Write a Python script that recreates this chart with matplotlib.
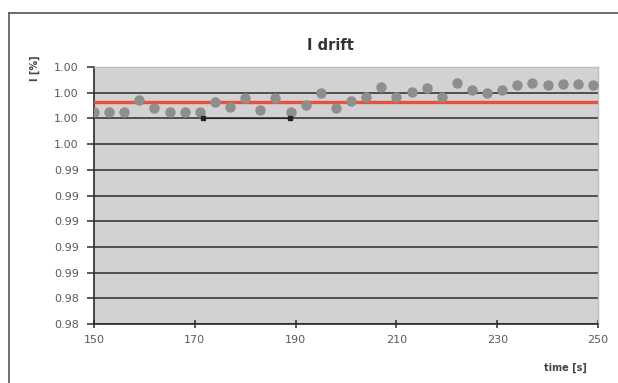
import numpy as np
import matplotlib
matplotlib.use('Agg')
import matplotlib.pyplot as plt
from matplotlib.ticker import FixedLocator, FixedFormatter

# Measured data (time in s, relative current)
time = [150, 153, 156, 159, 162, 165, 168, 171, 174, 177, 180, 183,
        186, 189, 192, 195, 198, 201, 204, 207, 210, 213, 216, 219,
        222, 225, 228, 231, 234, 237, 240, 243, 246, 249]
current = [0.99750, 0.99750, 0.99750, 0.99843, 0.99781, 0.99750, 0.99750,
           0.99750, 0.99828, 0.99789, 0.99859, 0.99765, 0.99859, 0.99750,
           0.99804, 0.99898, 0.99781, 0.99835, 0.99867, 0.99944, 0.99867,
           0.99905, 0.99937, 0.99867, 0.99975, 0.99921, 0.99898, 0.99921,
           0.99960, 0.99975, 0.99960, 0.99968, 0.99968, 0.99960]
mean_level = 0.99828

# stray segment left over in the original sheet
stray_t = [171.6, 188.9]
stray_i = [0.99703, 0.99703]

ytick_vals = [0.981, 0.983, 0.985, 0.987, 0.989, 0.991, 0.993,
              0.995, 0.997, 0.999, 1.001]
ytick_labels = ['0.98', '0.98', '0.99', '0.99', '0.99', '0.99', '0.99',
                '1.00', '1.00', '1.00', '1.00']
xtick_vals = [150, 170, 190, 210, 230, 250]

fig = plt.figure(figsize=(6.18, 3.83), dpi=100)
ax = fig.add_axes([94 / 618, 1 - 324 / 383, 504 / 618, 257 / 383])

ax.set_facecolor('#d2d2d2')
ax.set_xlim(150, 250)
ax.set_ylim(0.981, 1.001)
ax.yaxis.set_major_locator(FixedLocator(ytick_vals))
ax.yaxis.set_major_formatter(FixedFormatter(ytick_labels))
ax.set_xticks(xtick_vals)

ax.grid(axis='y', color='#2b2b2b', linewidth=1.1)
ax.set_axisbelow(True)

for side in ['top', 'right']:
    ax.spines[side].set_color('#bdbdbd')
    ax.spines[side].set_linewidth(1.0)
for side in ['left', 'bottom']:
    ax.spines[side].set_color('#2b2b2b')
    ax.spines[side].set_linewidth(1.2)

ax.tick_params(axis='y', direction='out', length=5, width=1.1, color='#2b2b2b',
               labelsize=8, labelcolor='#5a5a5a', pad=6)
ax.tick_params(axis='x', direction='inout', length=6, width=1.1, color='#2b2b2b',
               labelsize=8, labelcolor='#5a5a5a', pad=5)

ax.axhline(mean_level, color='#e8503c', linewidth=2.4, zorder=3)
ax.plot(time, current, 'o', color='#8e8e8e', markersize=7.5, zorder=4,
        markeredgewidth=0)
ax.plot(stray_t, stray_i, '-', color='#222222', linewidth=0.8, zorder=5,
        marker='s', markersize=2.5)

fig.text(330 / 618, 1 - 45 / 383, 'I drift', ha='center', va='center',
         fontsize=10.5, fontweight='bold', color='#333333')
fig.text(35 / 618, 1 - 68 / 383, 'I [%]', ha='center', va='center',
         rotation=90, fontsize=7, fontweight='bold', color='#444444')
fig.text(565 / 618, 1 - 368 / 383, 'time [s]', ha='center', va='center',
         fontsize=7, fontweight='bold', color='#444444')

# chart frame
fig.add_artist(plt.Line2D([9 / 618, 9 / 618], [0, 1 - 13 / 383],
                          transform=fig.transFigure, color='#555555', linewidth=1.2))
fig.add_artist(plt.Line2D([9 / 618, 1], [1 - 13 / 383, 1 - 13 / 383],
                          transform=fig.transFigure, color='#555555', linewidth=1.2))

fig.savefig('out.png', dpi=100)
